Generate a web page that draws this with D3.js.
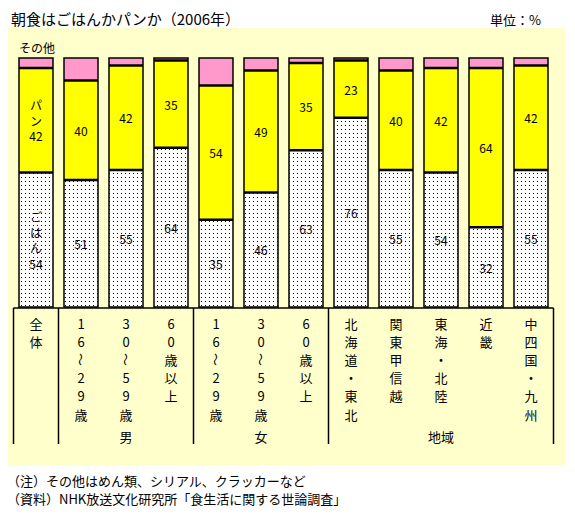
<!DOCTYPE html>
<html>
<head>
<meta charset="utf-8">
<script src="https://cdn.jsdelivr.net/npm/d3@7"></script>
<style>
body { margin: 0; background: #fff; }
svg text { font-family: "Noto Sans CJK JP", sans-serif; fill: #000; }
</style>
</head>
<body>
<svg id="chart" width="575" height="515"></svg>
<script>
// 데이터 (%)
var categories = ["全体", "男16-29", "男30-59", "男60+", "女16-29", "女30-59", "女60+",
                  "北海道・東北", "関東甲信越", "東海・北陸", "近畿", "中国・九州"];
var gohan = [54, 51, 55, 64, 35, 46, 63, 76, 55, 54, 32, 55];
var pan   = [42, 40, 42, 35, 54, 49, 35, 23, 40, 42, 64, 42];
var other = [4, 9, 3, 1, 11, 5, 2, 1, 5, 4, 4, 3];

// 縦書きラベル
var catLines = [
	["全", "体"],
	["1", "6", "〜", "2", "9", "歳"],
	["3", "0", "〜", "5", "9", "歳"],
	["6", "0", "歳", "以", "上"],
	["1", "6", "〜", "2", "9", "歳"],
	["3", "0", "〜", "5", "9", "歳"],
	["6", "0", "歳", "以", "上"],
	["北", "海", "道", "・", "東", "北"],
	["関", "東", "甲", "信", "越"],
	["東", "海", "・", "北", "陸"],
	["近", "畿"],
	["中", "四", "国", "・", "九", "州"]
];
var groups = [
	{name: "", from: 0, to: 0},
	{name: "男", from: 1, to: 3},
	{name: "女", from: 4, to: 6},
	{name: "地域", from: 7, to: 11}
];

var svg = d3.select("#chart");

// 배경
svg.append("rect")
	.attr("x", 8).attr("y", 28)
	.attr("width", 557).attr("height", 437)
	.attr("fill", "#ffffcc");

svg.append("text")
	.attr("x", 11).attr("y", 18)
	.attr("dominant-baseline", "central")
	.style("font-size", "15px")
	.text("朝食はごはんかパンか（2006年）");

svg.append("text")
	.attr("x", 541).attr("y", 19)
	.attr("text-anchor", "end")
	.attr("dominant-baseline", "central")
	.style("font-size", "13px")
	.text("単位：%");

var defs = svg.append("defs");
var pat = defs.append("pattern")
	.attr("id", "dots")
	.attr("patternUnits", "userSpaceOnUse")
	.attr("width", 4).attr("height", 4);
pat.append("rect").attr("width", 4).attr("height", 4).attr("fill", "#fff");
pat.append("rect").attr("x", 1).attr("y", 1).attr("width", 1).attr("height", 1).attr("fill", "#000");

var xScale = d3.scaleBand()
	.domain(categories)
	.range([13.5, 553.5])
	.paddingInner(0.2444)
	.paddingOuter(0.1222);

var yScale = d3.scaleLinear()
	.domain([0, 100])
	.range([307, 58]);

var dataset = categories.map(function(c, i) {
	return {cat: c, gohan: gohan[i], pan: pan[i], other: other[i]};
});

var stack = d3.stack().keys(["gohan", "pan", "other"]);
var series = stack(dataset);
var colors = {gohan: "url(#dots)", pan: "#ffff00", other: "#ff99cc"};

var barG = svg.append("g");

barG.selectAll("g.layer")
	.data(series)
	.enter().append("g")
	.attr("class", "layer")
	.attr("fill", function(s) { return colors[s.key]; })
	.selectAll("rect")
	.data(function(s) { return s; })
	.enter().append("rect")
	.attr("x", function(d) { return xScale(d.data.cat); })
	.attr("y", function(d) { return yScale(d[1]); })
	.attr("width", xScale.bandwidth())
	.attr("height", function(d) { return yScale(d[0]) - yScale(d[1]); });

// 구분선 (굵은 선)
series.slice(0, 2).forEach(function(s) {
	barG.selectAll(null)
		.data(s)
		.enter().append("line")
		.attr("x1", function(d) { return xScale(d.data.cat); })
		.attr("x2", function(d) { return xScale(d.data.cat) + xScale.bandwidth(); })
		.attr("y1", function(d) { return yScale(d[1]); })
		.attr("y2", function(d) { return yScale(d[1]); })
		.attr("stroke", "#000")
		.attr("stroke-width", 2.5);
});

// 테두리
barG.selectAll("rect.frame")
	.data(dataset)
	.enter().append("rect")
	.attr("class", "frame")
	.attr("x", function(d) { return xScale(d.cat); })
	.attr("y", yScale(100))
	.attr("width", xScale.bandwidth())
	.attr("height", yScale(0) - yScale(100))
	.attr("fill", "none")
	.attr("stroke", "#000")
	.attr("stroke-width", 1.5);

// 값 라벨
var lineH = 15.5;
series.slice(0, 2).forEach(function(s) {
	s.forEach(function(d, i) {
		var lines = [String(d[1] - d[0])];
		if (i === 0) lines = (s.key === "gohan" ? ["ご", "は", "ん"] : ["パ", "ン"]).concat(lines);
		var cx = xScale(d.data.cat) + xScale.bandwidth() / 2;
		var cy = (yScale(d[0]) + yScale(d[1])) / 2;
		var y0 = cy - (lines.length - 1) * lineH / 2;
		lines.forEach(function(t, k) {
			barG.append("text")
				.attr("x", cx).attr("y", y0 + k * lineH)
				.attr("text-anchor", "middle")
				.attr("dominant-baseline", "central")
				.style("font-size", "12px")
				.text(t);
		});
	});
});

svg.append("text")
	.attr("x", xScale(categories[0])).attr("y", 47)
	.attr("dominant-baseline", "central")
	.style("font-size", "12px")
	.text("その他");

// 표
var step = xScale.step();
var gap = step - xScale.bandwidth();
var tableTop = 308, tableBottom = 444;
var tableG = svg.append("g");

tableG.append("line")
	.attr("x1", xScale(categories[0]) - gap / 2)
	.attr("x2", xScale(categories[categories.length - 1]) + xScale.bandwidth() + gap / 2)
	.attr("y1", tableTop).attr("y2", tableTop)
	.attr("stroke", "#000").attr("stroke-width", 1.5);

var sepX = [xScale(categories[0]) - gap / 2];
groups.forEach(function(g) {
	sepX.push(xScale(categories[g.to]) + xScale.bandwidth() + gap / 2);
});
tableG.selectAll("line.sep")
	.data(sepX)
	.enter().append("line")
	.attr("class", "sep")
	.attr("x1", function(d) { return d; })
	.attr("x2", function(d) { return d; })
	.attr("y1", tableTop).attr("y2", tableBottom)
	.attr("stroke", "#000").attr("stroke-width", 1.5);

catLines.forEach(function(lines, i) {
	var cx = xScale(categories[i]) + xScale.bandwidth() / 2;
	lines.forEach(function(t, k) {
		var y = 323 + k * 18.2;
		var txt = tableG.append("text")
			.attr("text-anchor", "middle")
			.attr("dominant-baseline", "central")
			.style("font-size", "13px")
			.text(t);
		if (t === "〜") txt.attr("transform", "translate(" + cx + "," + y + ") rotate(90)");
		else txt.attr("x", cx).attr("y", y);
	});
});

groups.forEach(function(g) {
	if (!g.name) return;
	var x0 = xScale(categories[g.from]);
	var x1 = xScale(categories[g.to]) + xScale.bandwidth();
	tableG.append("text")
		.attr("x", (x0 + x1) / 2).attr("y", 436)
		.attr("text-anchor", "middle")
		.attr("dominant-baseline", "central")
		.style("font-size", "13px")
		.text(g.name);
});

// 주석
svg.append("text")
	.attr("x", 7).attr("y", 480)
	.attr("dominant-baseline", "central")
	.style("font-size", "13px")
	.text("（注）その他はめん類、シリアル、クラッカーなど");
svg.append("text")
	.attr("x", 7).attr("y", 498)
	.attr("dominant-baseline", "central")
	.style("font-size", "13px")
	.text("（資料）NHK放送文化研究所「食生活に関する世論調査」");
</script>
</body>
</html>
